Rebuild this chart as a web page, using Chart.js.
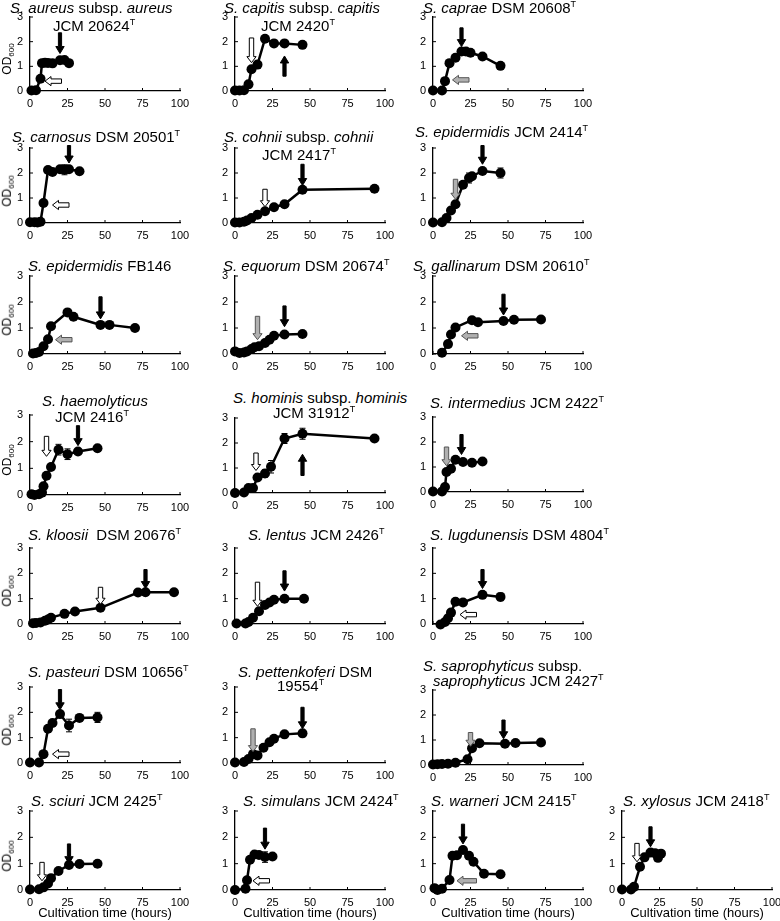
<!DOCTYPE html>
<html>
<head>
<meta charset="utf-8">
<script src="https://cdn.jsdelivr.net/npm/chart.js@4.4.0/dist/chart.umd.min.js"></script>
<style>
  body { margin: 0; background: #fff; }
  #page { position: relative; width: 780px; height: 921px; overflow: hidden;
          font-family: 'Liberation Sans', Arial, sans-serif; color: #000; }
  canvas { position: absolute; }
  .ttl { position: absolute; font-size: 15px; line-height: 16px; white-space: nowrap; }
  .ttl sup { font-size: 9px; line-height: 0; }
  .od { position: absolute; font-size: 12px; white-space: nowrap; transform: translate(-50%, -50%) rotate(-90deg); }
  .od sub { font-size: 8px; }
  .xt { position: absolute; font-size: 13px; white-space: nowrap; transform: translateX(-50%); }
</style>
</head>
<body>
<div id="page"></div>
<script>
// ============================================================================
// Data (time in hours, OD600, error, arrows in data units)
// ============================================================================

const xTicks = [0, 25, 50, 75, 100];
const yTicks = [0, 1, 2, 3];

const aureusTime = [1, 4, 7, 8, 10, 12, 15, 20, 23, 26];
const aureusOD   = [0.02, 0.03, 0.5, 1.13, 1.15, 1.14, 1.12, 1.25, 1.26, 1.13];
const aureusErr  = [0, 0, 0, 0, 0, 0, 0, 0.05, 0.08, 0.05];

const capitisTime = [0, 3, 6, 9, 11, 15, 20, 26, 33, 45];
const capitisOD   = [0.02, 0.02, 0.03, 0.27, 0.88, 1.07, 2.12, 1.93, 1.93, 1.87];
const capitisErr  = [0, 0, 0, 0, 0.05, 0, 0.05, 0.07, 0.05, 0.08];

const capraeTime = [0, 6, 8, 11, 15, 19, 22, 25, 33, 45];
const capraeOD   = [0.02, 0.02, 0.4, 1.13, 1.35, 1.6, 1.6, 1.55, 1.4, 1.02];
const capraeErr  = [0, 0, 0, 0, 0, 0.05, 0.05, 0.05, 0.05, 0.05];

const carnosusTime = [0, 3, 5, 7, 9, 12, 15, 20, 23, 26, 33];
const carnosusOD   = [0.03, 0.03, 0.02, 0.05, 0.8, 2.12, 2.04, 2.15, 2.13, 2.15, 2.07];
const carnosusErr  = [0, 0, 0, 0, 0.03, 0.05, 0.05, 0.07, 0.2, 0.1, 0.05];

const cohniiTime = [0, 3, 6, 8, 11, 15, 20, 26, 33, 45, 93];
const cohniiOD   = [0.02, 0.02, 0.05, 0.1, 0.2, 0.33, 0.47, 0.63, 0.75, 1.33, 1.37];
const cohniiErr  = [0, 0, 0, 0, 0, 0, 0.03, 0.03, 0.03, 0.06, 0.08];

const epiTime = [0, 6, 9, 12, 15, 20, 24, 26, 33, 45];
const epiOD   = [0.02, 0.03, 0.2, 0.5, 0.75, 1.53, 1.8, 1.87, 2.08, 2.0];
const epiErr  = [0, 0, 0, 0, 0.05, 0.08, 0.2, 0.08, 0.07, 0.2];

const fbTime = [2, 4, 6, 9, 12, 14, 25, 29, 47, 53, 70];
const fbOD   = [0.02, 0.04, 0.08, 0.3, 0.57, 1.07, 1.6, 1.43, 1.12, 1.12, 1.0];
const fbErr  = [0, 0, 0, 0, 0, 0.05, 0.05, 0.03, 0.03, 0.03, 0.05];

const equorumTime = [0, 3, 6, 8, 11, 13, 16, 20, 23, 26, 33, 45];
const equorumOD   = [0.1, 0.04, 0.06, 0.1, 0.19, 0.26, 0.3, 0.42, 0.55, 0.7, 0.75, 0.77];
const equorumErr  = [0, 0, 0, 0, 0, 0, 0, 0, 0.03, 0.03, 0.05, 0.05];

const gallinarumTime = [6, 10, 12, 15, 26, 30, 47, 54, 72];
const gallinarumOD   = [0.05, 0.38, 0.75, 1.02, 1.3, 1.22, 1.27, 1.32, 1.33];
const gallinarumErr  = [0, 0, 0, 0, 0.05, 0.05, 0.05, 0.05, 0.05];

const haemoTime = [1, 3, 6, 8, 9, 11, 14, 19, 25, 32, 45];
const haemoOD   = [0.03, 0, 0.03, 0.09, 0.33, 0.72, 1.05, 1.7, 1.53, 1.63, 1.75];
const haemoErr  = [0, 0, 0, 0, 0, 0.05, 0.05, 0.2, 0.2, 0.1, 0.05];

const hominisTime = [0, 6, 9, 12, 15, 20, 24, 33, 45, 93];
const hominisOD   = [0, 0.02, 0.2, 0.2, 0.62, 0.78, 1.05, 2.18, 2.37, 2.18];
const hominisErr  = [0, 0, 0.05, 0.05, 0.1, 0.15, 0.25, 0.2, 0.22, 0.12];

const intermediusTime = [0, 6, 8, 9, 12, 15, 20, 26, 33];
const intermediusOD   = [0.02, 0.02, 0.2, 0.8, 0.93, 1.29, 1.2, 1.17, 1.22];
const intermediusErr  = [0, 0, 0, 0.1, 0.1, 0.1, 0.1, 0.05, 0.05];

const kloosiiTime = [2, 4, 7, 10, 12, 14, 23, 30, 47, 72, 77, 96];
const kloosiiOD   = [0.03, 0.04, 0.06, 0.13, 0.18, 0.25, 0.4, 0.49, 0.64, 1.24, 1.25, 1.25];
const kloosiiErr  = [0, 0, 0, 0, 0, 0, 0.03, 0.03, 0.05, 0.03, 0.03, 0.03];

const lentusTime = [1, 7, 9, 12, 16, 20, 23, 26, 33, 46];
const lentusOD   = [0.02, 0.02, 0.08, 0.25, 0.5, 0.75, 0.85, 0.96, 1.0, 1.0];
const lentusErr  = [0, 0, 0, 0, 0, 0, 0, 0.03, 0.03, 0.03];

const lugdTime = [5, 8, 10, 12, 15, 20, 33, 45];
const lugdOD   = [-0.02, 0.08, 0.23, 0.45, 0.88, 0.85, 1.15, 1.07];
const lugdErr  = [0, 0, 0, 0, 0.05, 0.12, 0.08, 0.15];

const pasteuriTime = [0, 6, 9, 12, 15, 20, 26, 33, 45];
const pasteuriOD   = [0.02, 0.02, 0.35, 1.35, 1.58, 1.93, 1.48, 1.78, 1.8];
const pasteuriErr  = [0, 0, 0, 0.1, 0.1, 0.05, 0.25, 0.1, 0.2];

const pettenTime = [0, 6, 9, 12, 15, 19, 23, 26, 33, 45];
const pettenOD   = [0.02, 0.04, 0.16, 0.35, 0.3, 0.6, 0.82, 0.96, 1.13, 1.17];
const pettenErr  = [0, 0, 0, 0, 0, 0, 0, 0, 0.03, 0.05];

const saproTime = [0, 3, 6, 10, 15, 23, 26, 31, 48, 55, 72];
const saproOD   = [0.02, 0.03, 0.04, 0.05, 0.09, 0.23, 0.67, 0.87, 0.85, 0.88, 0.9];
const saproErr  = [0, 0, 0, 0, 0, 0, 0.05, 0.05, 0.05, 0.05, 0.05];

const sciuriTime = [0, 6, 9, 12, 14, 19, 26, 33, 45];
const sciuriOD   = [0.02, 0.03, 0.1, 0.25, 0.45, 0.72, 0.95, 0.99, 1.0];
const sciuriErr  = [0, 0, 0, 0, 0, 0, 0.03, 0.03, 0.03];

const simulansTime = [0, 7, 8, 10, 13, 16, 20, 25];
const simulansOD   = [0, 0.05, 0.37, 1.15, 1.35, 1.33, 1.25, 1.27];
const simulansErr  = [0, 0, 0, 0, 0.05, 0.05, 0.2, 0.08];

const warneriTime = [1, 3, 6, 11, 13, 16, 20, 24, 27, 34, 45];
const warneriOD   = [0.07, 0, 0.05, 0.38, 1.3, 1.32, 1.52, 1.3, 1.07, 0.62, 0.6];
const warneriErr  = [0, 0, 0, 0, 0.03, 0.03, 0.05, 0.03, 0.03, 0.03, 0.03];

const xylosusTime = [0, 6, 8, 12, 15, 19, 22, 24, 26];
const xylosusOD   = [0.02, 0.02, 0.12, 0.88, 1.24, 1.42, 1.4, 1.22, 1.38];
const xylosusErr  = [0, 0, 0, 0, 0.05, 0.05, 0.1, 0.1, 0.05];

// arrows: vertical {x, from, to} or horizontal {y, from, to, h:true}
const aureusArrows   = [{ y: 0.4, from: 21, to: 10, h: true, kind: 'open' }, { x: 20, from: 2.36, to: 1.52, kind: 'solid' }];
const capitisArrows  = [{ x: 11, from: 2.15, to: 1.15, kind: 'open' }, { x: 33, from: 0.6, to: 1.42, kind: 'solid' }];
const capraeArrows   = [{ y: 0.45, from: 24, to: 13, h: true, kind: 'grey' }, { x: 19, from: 2.56, to: 1.8, kind: 'solid' }];
const carnosusArrows = [{ y: 0.72, from: 26, to: 15, h: true, kind: 'open' }, { x: 26, from: 3.1, to: 2.4, kind: 'solid' }];
const cohniiArrows   = [{ x: 20, from: 1.35, to: 0.65, kind: 'open' }, { x: 45, from: 2.35, to: 1.5, kind: 'solid' }];
const epiArrows      = [{ x: 15, from: 1.75, to: 0.95, kind: 'grey' }, { x: 33, from: 3.1, to: 2.35, kind: 'solid' }];
const fbArrows       = [{ y: 0.55, from: 28, to: 17, h: true, kind: 'grey' }, { x: 47, from: 2.2, to: 1.35, kind: 'solid' }];
const equorumArrows  = [{ x: 15, from: 1.45, to: 0.55, kind: 'grey' }, { x: 33, from: 1.85, to: 1.05, kind: 'solid' }];
const gallinArrows   = [{ y: 0.7, from: 30, to: 19, h: true, kind: 'grey' }, { x: 47, from: 2.3, to: 1.5, kind: 'solid' }];
const haemoArrows    = [{ x: 11, from: 2.2, to: 1.45, kind: 'open' }, { x: 32, from: 2.6, to: 1.85, kind: 'solid' }];
const hominisArrows  = [{ x: 14, from: 1.6, to: 0.9, kind: 'open' }, { x: 45, from: 0.7, to: 1.55, kind: 'solid' }];
const interArrows    = [{ x: 9, from: 1.8, to: 1.05, kind: 'grey' }, { x: 19, from: 2.3, to: 1.5, kind: 'solid' }];
const kloosiiArrows  = [{ x: 47, from: 1.45, to: 0.78, kind: 'open' }, { x: 77, from: 2.15, to: 1.4, kind: 'solid' }];
const lentusArrows   = [{ x: 15, from: 1.65, to: 0.7, kind: 'open' }, { x: 33, from: 2.1, to: 1.3, kind: 'solid' }];
const lugdArrows     = [{ y: 0.37, from: 29, to: 18, h: true, kind: 'open' }, { x: 33, from: 2.15, to: 1.4, kind: 'solid' }];
const pasteuriArrows = [{ y: 0.35, from: 26, to: 15, h: true, kind: 'open' }, { x: 20, from: 2.9, to: 2.1, kind: 'solid' }];
const pettenArrows   = [{ x: 12, from: 1.35, to: 0.45, kind: 'grey' }, { x: 45, from: 2.2, to: 1.35, kind: 'solid' }];
const saproArrows    = [{ x: 25, from: 1.3, to: 0.75, kind: 'grey' }, { x: 47, from: 1.8, to: 1.05, kind: 'solid' }];
const sciuriArrows   = [{ x: 8, from: 1.05, to: 0.35, kind: 'open' }, { x: 26, from: 1.75, to: 1.0, kind: 'solid' }];
const simulansArrows = [{ y: 0.35, from: 23, to: 12, h: true, kind: 'open' }, { x: 20, from: 2.35, to: 1.55, kind: 'solid' }];
const warneriArrows  = [{ y: 0.35, from: 29, to: 16, h: true, kind: 'grey' }, { x: 20, from: 2.5, to: 1.75, kind: 'solid' }];
const xylosusArrows  = [{ x: 10, from: 1.77, to: 1.07, kind: 'open' }, { x: 19, from: 2.4, to: 1.64, kind: 'solid' }];

// ============================================================================
// Layout (pixel positions of each panel: x of 0 and 100, y of 3 and 0)
// ============================================================================

const COLS = [[30, 180], [235, 385], [433, 583], [622, 772]];

const panels = [
  { col: 0, y3: 17, y0: 91, t: aureusTime, v: aureusOD, e: aureusErr, a: aureusArrows,
    title: [['<i>S. aureus</i> subsp. <i>aureus</i>', 10, 8], ['JCM 20624<sup>T</sup>', 53, 26]] },
  { col: 1, y3: 17, y0: 91, t: capitisTime, v: capitisOD, e: capitisErr, a: capitisArrows,
    title: [['<i>S. capitis</i> subsp. <i>capitis</i>', 224, 8], ['JCM 2420<sup>T</sup>', 261, 26]] },
  { col: 2, y3: 17, y0: 91, t: capraeTime, v: capraeOD, e: capraeErr, a: capraeArrows,
    title: [['<i>S. caprae</i> DSM 20608<sup>T</sup>', 423, 8]] },

  { col: 0, y3: 148, y0: 223, t: carnosusTime, v: carnosusOD, e: carnosusErr, a: carnosusArrows,
    title: [['<i>S. carnosus</i> DSM 20501<sup>T</sup>', 12, 137]] },
  { col: 1, y3: 148, y0: 223, t: cohniiTime, v: cohniiOD, e: cohniiErr, a: cohniiArrows,
    title: [['<i>S. cohnii</i> subsp. <i>cohnii</i>', 224, 137], ['JCM 2417<sup>T</sup>', 262, 155]] },
  { col: 2, y3: 148, y0: 223, t: epiTime, v: epiOD, e: epiErr, a: epiArrows,
    title: [['<i>S. epidermidis</i> JCM 2414<sup>T</sup>', 415, 132]] },

  { col: 0, y3: 276, y0: 354, t: fbTime, v: fbOD, e: fbErr, a: fbArrows,
    title: [['<i>S. epidermidis</i> FB146', 28, 266]] },
  { col: 1, y3: 276, y0: 354, t: equorumTime, v: equorumOD, e: equorumErr, a: equorumArrows,
    title: [['<i>S. equorum</i> DSM 20674<sup>T</sup>', 223, 266]] },
  { col: 2, y3: 276, y0: 354, t: gallinarumTime, v: gallinarumOD, e: gallinarumErr, a: gallinArrows,
    title: [['<i>S. gallinarum</i> DSM 20610<sup>T</sup>', 413, 266]] },

  { col: 0, y3: 415, y0: 495, t: haemoTime, v: haemoOD, e: haemoErr, a: haemoArrows,
    title: [['<i>S. haemolyticus</i>', 42, 401], ['JCM 2416<sup>T</sup>', 55, 417]] },
  { col: 1, y3: 418, y0: 493, t: hominisTime, v: hominisOD, e: hominisErr, a: hominisArrows,
    title: [['<i>S. hominis</i> subsp. <i>hominis</i>', 233, 398], ['JCM 31912<sup>T</sup>', 273, 413]] },
  { col: 2, y3: 417, y0: 492, t: intermediusTime, v: intermediusOD, e: intermediusErr, a: interArrows,
    title: [['<i>S. intermedius</i> JCM 2422<sup>T</sup>', 430, 403]] },

  { col: 0, y3: 548, y0: 624, t: kloosiiTime, v: kloosiiOD, e: kloosiiErr, a: kloosiiArrows,
    title: [['<i>S. kloosii</i>&nbsp; DSM 20676<sup>T</sup>', 28, 535]] },
  { col: 1, y3: 548, y0: 624, t: lentusTime, v: lentusOD, e: lentusErr, a: lentusArrows,
    title: [['<i>S. lentus</i> JCM 2426<sup>T</sup>', 248, 535]] },
  { col: 2, y3: 548, y0: 624, t: lugdTime, v: lugdOD, e: lugdErr, a: lugdArrows,
    title: [['<i>S. lugdunensis</i> DSM 4804<sup>T</sup>', 430, 535]] },

  { col: 0, y3: 687, y0: 763, t: pasteuriTime, v: pasteuriOD, e: pasteuriErr, a: pasteuriArrows,
    title: [['<i>S. pasteuri</i> DSM 10656<sup>T</sup>', 28, 672]] },
  { col: 1, y3: 687, y0: 763, t: pettenTime, v: pettenOD, e: pettenErr, a: pettenArrows,
    title: [['<i>S. pettenkoferi</i> DSM', 238, 672], ['19554<sup>T</sup>', 277, 686]] },
  { col: 2, y3: 690, y0: 765, t: saproTime, v: saproOD, e: saproErr, a: saproArrows,
    title: [['<i>S. saprophyticus</i> subsp.', 423, 666], ['<i>saprophyticus</i> JCM 2427<sup>T</sup>', 433, 681]] },

  { col: 0, y3: 811, y0: 890, t: sciuriTime, v: sciuriOD, e: sciuriErr, a: sciuriArrows,
    title: [['<i>S. sciuri</i> JCM 2425<sup>T</sup>', 31, 801]] },
  { col: 1, y3: 811, y0: 890, t: simulansTime, v: simulansOD, e: simulansErr, a: simulansArrows,
    title: [['<i>S. simulans</i> JCM 2424<sup>T</sup>', 243, 801]] },
  { col: 2, y3: 811, y0: 890, t: warneriTime, v: warneriOD, e: warneriErr, a: warneriArrows,
    title: [['<i>S. warneri</i> JCM 2415<sup>T</sup>', 431, 801]] },
  { col: 3, y3: 811, y0: 890, t: xylosusTime, v: xylosusOD, e: xylosusErr, a: xylosusArrows,
    title: [['<i>S. xylosus</i> JCM 2418<sup>T</sup>', 623, 801]] }
];

const PAD_L = 30;   // y-axis box width
const PAD_R = 14;
const PAD_T = 8;
const PAD_B = 20;   // x-axis box height
const TICK_FONT = { family: "'Liberation Sans', Arial, sans-serif", size: 11 };

// ============================================================================
// Plugins
// ============================================================================

const errorBars = {
  id: 'errorBars',
  afterDatasetsDraw(chart) {
    const ctx = chart.ctx;
    const ys = chart.scales.y;
    chart.data.datasets.forEach((ds, i) => {
      if (!ds.errors) return;
      const meta = chart.getDatasetMeta(i);
      ds.errors.forEach((e, j) => {
        if (!e) return;
        const pt = meta.data[j];
        const top = ys.getPixelForValue(ds.data[j].y + e);
        const bot = ys.getPixelForValue(ds.data[j].y - e);
        ctx.save();
        ctx.strokeStyle = '#000';
        ctx.lineWidth = 1;
        ctx.beginPath();
        ctx.moveTo(pt.x, top); ctx.lineTo(pt.x, bot);
        ctx.moveTo(pt.x - 3, top); ctx.lineTo(pt.x + 3, top);
        ctx.moveTo(pt.x - 3, bot); ctx.lineTo(pt.x + 3, bot);
        ctx.stroke();
        ctx.restore();
      });
    });
  }
};

// small inward tick marks, as in the original figure
const innerTicks = {
  id: 'innerTicks',
  afterDraw(chart) {
    const { ctx, chartArea, scales } = chart;
    ctx.save();
    ctx.strokeStyle = '#000';
    ctx.lineWidth = 1;
    ctx.beginPath();
    xTicks.forEach(v => {
      const x = scales.x.getPixelForValue(v);
      ctx.moveTo(x, chartArea.bottom); ctx.lineTo(x, chartArea.bottom - 3);
    });
    yTicks.forEach(v => {
      const y = scales.y.getPixelForValue(v);
      ctx.moveTo(chartArea.left, y); ctx.lineTo(chartArea.left + 3, y);
    });
    ctx.stroke();
    ctx.restore();
  }
};

function drawArrow(ctx, x1, y1, x2, y2, kind) {
  const len = Math.hypot(x2 - x1, y2 - y1);
  const ux = (x2 - x1) / len, uy = (y2 - y1) / len;
  const nx = -uy, ny = ux;
  const sw = kind === 'solid' ? 1.6 : 2.2;
  const hw = kind === 'solid' ? 4.2 : 4.6;
  const hl = kind === 'solid' ? 7 : 6;
  const bx = x2 - ux * hl, by = y2 - uy * hl;
  ctx.save();
  ctx.beginPath();
  ctx.moveTo(x1 + nx * sw, y1 + ny * sw);
  ctx.lineTo(bx + nx * sw, by + ny * sw);
  ctx.lineTo(bx + nx * hw, by + ny * hw);
  ctx.lineTo(x2, y2);
  ctx.lineTo(bx - nx * hw, by - ny * hw);
  ctx.lineTo(bx - nx * sw, by - ny * sw);
  ctx.lineTo(x1 - nx * sw, y1 - ny * sw);
  ctx.closePath();
  ctx.fillStyle = kind === 'solid' ? '#000' : (kind === 'grey' ? '#b0b0b0' : '#fff');
  ctx.fill();
  ctx.lineWidth = 1;
  ctx.strokeStyle = kind === 'grey' ? '#555' : '#000';
  ctx.stroke();
  ctx.restore();
}

function arrowPlugin(list) {
  return {
    id: 'arrows',
    afterDatasetsDraw(chart) {
      const xs = chart.scales.x, ys = chart.scales.y;
      list.forEach(a => {
        if (a.h) {
          const y = ys.getPixelForValue(a.y);
          drawArrow(chart.ctx, xs.getPixelForValue(a.from), y, xs.getPixelForValue(a.to), y, a.kind);
        } else {
          const x = xs.getPixelForValue(a.x);
          drawArrow(chart.ctx, x, ys.getPixelForValue(a.from), x, ys.getPixelForValue(a.to), a.kind);
        }
      });
    }
  };
}

// ============================================================================
// Build panels
// ============================================================================

const page = document.getElementById('page');

function addDiv(cls, html, left, top) {
  const d = document.createElement('div');
  d.className = cls;
  d.innerHTML = html;
  d.style.left = left + 'px';
  d.style.top = top + 'px';
  page.appendChild(d);
  return d;
}

function makePanel(p) {
  const [x0, x100] = COLS[p.col];
  const c = document.createElement('canvas');
  c.width = PAD_L + (x100 - x0) + PAD_R;
  c.height = PAD_T + (p.y0 - p.y3) + PAD_B;
  c.style.left = (x0 - PAD_L) + 'px';
  c.style.top = (p.y3 - PAD_T) + 'px';
  page.appendChild(c);

  const axisGrid = { display: true, drawOnChartArea: false, drawTicks: false, color: '#000' };

  new Chart(c, {
    type: 'line',
    data: {
      datasets: [{
        data: p.t.map((t, i) => ({ x: t, y: p.v[i] })),
        errors: p.e,
        borderColor: '#000',
        backgroundColor: '#000',
        borderWidth: 2.5,
        pointRadius: 5,
        pointBorderWidth: 0,
        pointBackgroundColor: '#000',
        tension: 0,
        clip: false
      }]
    },
    options: {
      responsive: false,
      animation: false,
      devicePixelRatio: 1,
      layout: { padding: { top: PAD_T, right: PAD_R, left: 0, bottom: 0 } },
      plugins: { legend: { display: false }, tooltip: { enabled: false } },
      scales: {
        x: {
          type: 'linear', min: 0, max: 100,
          afterBuildTicks: s => { s.ticks = xTicks.map(v => ({ value: v })); },
          ticks: { font: TICK_FONT, color: '#000', padding: 6, maxRotation: 0, autoSkip: false },
          grid: axisGrid,
          border: { display: true, color: '#000', width: 1.3 },
          afterFit: s => { s.height = PAD_B; s.paddingLeft = 0; s.paddingRight = 0; }
        },
        y: {
          min: 0, max: 3,
          afterBuildTicks: s => { s.ticks = yTicks.map(v => ({ value: v })); },
          ticks: { font: TICK_FONT, color: '#000', padding: 7 },
          grid: axisGrid,
          border: { display: true, color: '#000', width: 1.3 },
          afterFit: s => { s.width = PAD_L; s.paddingTop = 0; s.paddingBottom = 0; }
        }
      }
    },
    plugins: [innerTicks, errorBars, arrowPlugin(p.a)]
  });

  p.title.forEach(([html, left, cy]) => addDiv('ttl', html, left, cy - 8));

  if (p.col === 0) {
    addDiv('od', 'OD<sub>600</sub>', 8, (p.y3 + p.y0) / 2 + 5);
  }
  if (p.y3 > 800) {
    addDiv('xt', 'Cultivation time (hours)', (x0 + x100) / 2, p.y0 + 15);
  }
}

panels.forEach(makePanel);
</script>
</body>
</html>
